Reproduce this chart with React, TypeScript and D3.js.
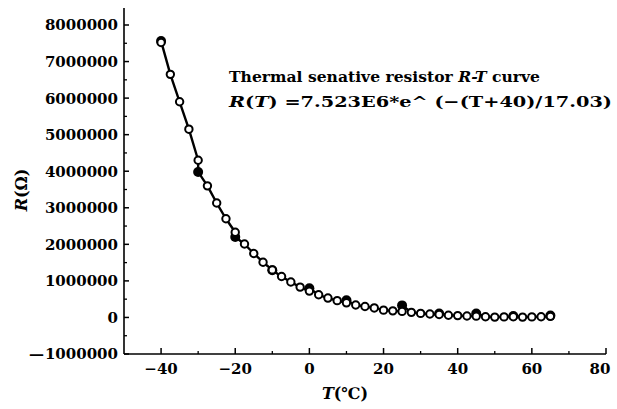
import { scaleLinear, line, range } from "d3";

// open circles: fitted curve samples
const fitTemps = [
  -40, -37.5, -35, -32.5, -30, -27.5, -25, -22.5, -20, -17.5, -15, -12.5, -10, -7.5, -5, -2.5,
  0, 2.5, 5, 7.5, 10, 12.5, 15, 17.5, 20, 22.5, 25, 27.5, 30, 32.5, 35, 37.5, 40, 42.5, 45,
  47.5, 50, 52.5, 55, 57.5, 60, 62.5, 65,
];
const fitValues = [
  7520000, 6650000, 5900000, 5150000, 4300000, 3600000, 3130000, 2700000, 2330000, 2010000,
  1750000, 1510000, 1300000, 1120000, 970000, 830000, 720000, 620000, 530000, 460000, 400000,
  340000, 300000, 260000, 200000, 180000, 165000, 140000, 110000, 95000, 80000, 60000, 50000,
  40000, 35000, 20000, 10000, 15000, 20000, 10000, 15000, 20000, 30000,
];
// filled dots: measured values
const measuredTemps = [-40, -30, -20, -10, 0, 10, 25, 35, 45, 55, 65];
const measuredValues = [
  7560000, 3980000, 2200000, 1290000, 800000, 470000, 330000, 110000, 110000, 40000, 50000,
];

const xTicks = [-40, -20, 0, 20, 40, 60, 80];
const yTickLabels = [
  "8000000", "7000000", "6000000", "5000000", "4000000", "3000000", "2000000", "1000000", "0",
  "−1000000",
];
const titleLine1 = ["Thermal senative resistor ", "R-T", " curve"];
const titleLine2 = "=7.523E6*e^ (−(T+40)/17.03)";

export default function App() {
  const width = 617,
    height = 409;
  const x = scaleLinear().domain([-50, 80]).range([124, 606]);
  const y = scaleLinear().domain([-1000000, 8000000]).range([354, 25]);

  const pts = fitTemps
    .map((t, i) => ({ t, v: fitValues[i], m: 0 }))
    .concat(measuredTemps.map((t, i) => ({ t, v: measuredValues[i], m: 1 })))
    .sort((a, b) => a.t - b.t || a.m - b.m);

  const path = line<{ t: number; v: number }>()
    .x((d) => x(d.t))
    .y((d) => y(d.v))(pts);

  const yVals = yTickLabels.map((s) => +s.replace("−", "-"));
  const yMinor = range(-500000, 8000000, 1000000);
  const xMinor = range(-30, 80, 20);
  const font = "'DejaVu Serif', 'Liberation Serif', serif";

  return (
    <svg
      width={width}
      height={height}
      style={{ position: "absolute", left: 0, top: 0, background: "#fff" }}
      fontFamily={font}
    >
      <rect width={width} height={height} fill="#fff" />
      {/* axes */}
      <line x1={124} x2={124} y1={8} y2={y(-1000000)} stroke="#000" strokeWidth={1.6} />
      <line x1={124} x2={606} y1={y(-1000000)} y2={y(-1000000)} stroke="#000" strokeWidth={1.6} />
      {yVals.map((v, i) => (
        <g key={"y" + i}>
          <line x1={124} x2={129} y1={y(v)} y2={y(v)} stroke="#000" strokeWidth={1.5} />
          <text x={118} y={y(v)} dy="0.36em" textAnchor="end" fontSize={15} fontWeight="bold">
            {v < 0 ? (
              <>
                <tspan dx={0}>—</tspan>
                <tspan dx={1}>{yTickLabels[i].slice(1)}</tspan>
              </>
            ) : (
              yTickLabels[i]
            )}
          </text>
        </g>
      ))}
      {yMinor.map((v) => (
        <line key={"ym" + v} x1={124} x2={127} y1={y(v)} y2={y(v)} stroke="#000" strokeWidth={1.3} />
      ))}
      {xTicks.map((t) => (
        <g key={"x" + t}>
          <line x1={x(t)} x2={x(t)} y1={y(-1000000)} y2={y(-1000000) - 6} stroke="#000" strokeWidth={1.5} />
          <text
            x={Math.min(x(t), 600)}
            y={y(-1000000) + 20}
            textAnchor="middle"
            fontSize={15}
            fontWeight="bold"
          >
            {t < 0 ? "−" + Math.abs(t) : t}
          </text>
        </g>
      ))}
      {xMinor.map((t) => (
        <line key={"xm" + t} x1={x(t)} x2={x(t)} y1={y(-1000000)} y2={y(-1000000) - 3} stroke="#000" strokeWidth={1.3} />
      ))}
      {/* axis titles */}
      <text x={345} y={399} textAnchor="middle" fontSize={16} fontWeight="bold">
        <tspan fontStyle="italic">T</tspan>(℃)
      </text>
      <text transform="translate(27,190) rotate(-90)" textAnchor="middle" fontSize={16} fontWeight="bold">
        <tspan fontStyle="italic">R</tspan>(Ω)
      </text>
      {/* curve */}
      <path d={path ?? ""} fill="none" stroke="#000" strokeWidth={2.4} strokeLinejoin="round" />
      {measuredTemps.map((t, i) => (
        <circle key={"m" + i} cx={x(t)} cy={y(measuredValues[i])} r={5} fill="#000" />
      ))}
      {fitTemps.map((t, i) => (
        <circle
          key={"f" + i}
          cx={x(t)}
          cy={y(fitValues[i])}
          r={3.7}
          fill="#fff"
          stroke="#000"
          strokeWidth={2}
        />
      ))}
      {/* annotation */}
      <text x={229} y={82} fontSize={15.5} fontWeight="bold" textLength={311} lengthAdjust="spacingAndGlyphs">
        {titleLine1[0]}
        <tspan fontStyle="italic">{titleLine1[1]}</tspan>
        {titleLine1[2]}
      </text>
      <text x={229} y={107} fontSize={15.5} fontWeight="bold" textLength={383} lengthAdjust="spacingAndGlyphs">
        <tspan fontStyle="italic">R</tspan>(<tspan fontStyle="italic">T</tspan>) {titleLine2}
      </text>
    </svg>
  );
}
